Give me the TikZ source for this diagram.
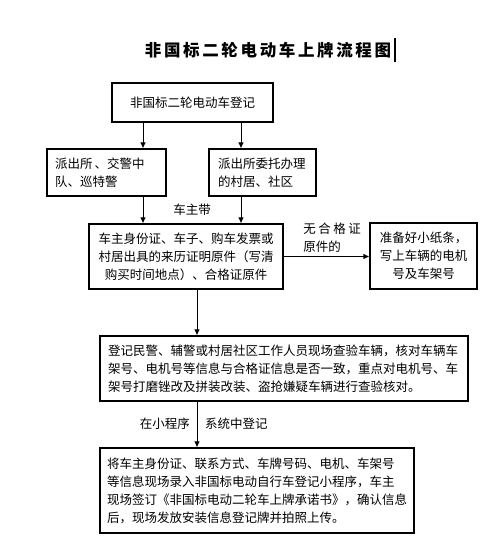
\documentclass[tikz,border=0pt]{standalone}
\usepackage{fontspec}
\setmainfont{Noto Sans CJK SC}
\newfontfamily\titlefont[LetterSpace=16]{Noto Sans CJK SC}
\usetikzlibrary{arrows.meta}
\begin{document}
\begin{tikzpicture}[x=1pt,y=-1pt,
  box/.style={draw,line width=1.2pt,inner ysep=0pt,inner xsep=8pt,
    font=\fontsize{12.5}{18}\selectfont},
  arr/.style={line width=0.9pt,-{Latex[length=6pt,width=5.5pt]}},
  lbl/.style={inner sep=0pt,font=\fontsize{12.5}{18}\selectfont}]
\useasboundingbox[fill=white] (0,0) rectangle (500,551);
% title
\node[inner sep=0pt,font=\titlefont\bfseries\fontsize{16.5}{20}\selectfont] (title) at (268,50) {非国标二轮电动车上牌流程图};
\coordinate (cur) at (395,38);
\draw[line width=1.2pt] (cur) -- ++(0,24);
% boxes
\node[box,minimum width=161pt,minimum height=39pt] (b1) at (192.5,102.5) {非国标二轮电动车登记};
\node[box,text width=103pt,minimum height=47pt,align=left] (b2l) at (106.5,172.5) {派出所\hspace{2pt}、交警中\\队、巡特警};
\node[box,text width=89pt,inner xsep=9pt,minimum height=47pt,align=left] (b2r) at (262.5,172.5) {派出所委托办理\\的村居、社区};
\node[box,text width=180pt,inner xsep=7pt,minimum height=65pt,align=center] (b3) at (186,256.5) {车主身份证、车子、购车发票或\\村居出具的来历证明原件（写清\\购买时间地点）、合格证原件};
\node[box,text width=95pt,inner xsep=6pt,minimum height=66pt,align=center] (b4) at (423.5,256) {准备好小纸条，\\写上车辆的电机\\号及车架号};
\node[box,text width=352pt,inner xsep=8pt,minimum height=65pt,align=left] (b5) at (284,368.5) {登记民警、辅警或村居社区工作人员现场查验车辆，核对车辆车\\架号、电机号等信息与合格证信息是否一致，重点对电机号、车\\架号打磨锉改及拼装改装、盗抢嫌疑车辆进行查验核对。};
\node[box,text width=300pt,inner xsep=7pt,minimum height=85pt,align=left] (b6) at (257,490.5) {将车主身份证、联系方式、车牌号码、电机、车架号\\等信息现场录入非国标电动自行车登记小程序，车主\\现场签订《非国标电动二轮车上牌承诺书》，确认信息\\后，现场发放安装信息登记牌并拍照上传。};
% connector columns
\coordinate (xa) at (143,0);
\coordinate (xb) at (241,0);
\coordinate (xc) at (197,0);
\draw[arr] (b1.south -| xa) -- (b2l.north -| xa);
\draw[arr] (b1.south -| xb) -- (b2r.north -| xb);
\draw[arr] (b2l.south -| xa) -- (b3.north -| xa);
\draw[arr] (b2r.south -| xb) -- (b3.north -| xb);
\draw[arr] (b3.east) -- (b4.west |- b3.east);
\draw[arr] (b3.south -| xc) -- (b5.north -| xc);
\draw[arr] (b5.south -| xc) -- (b6.north -| xc);
% labels
\node[lbl] (l1) at (192,210) {车主带};
\node[lbl,align=left] (l2) at (332,238) {无\hspace{2.5pt}合\hspace{2.5pt}格\hspace{2.5pt}证\\原件的};
\node[lbl,anchor=east] (l3) at (190,424) {在小程序};
\node[lbl,anchor=west] (l4) at (205,424) {系统中登记};
\end{tikzpicture}
\end{document}
